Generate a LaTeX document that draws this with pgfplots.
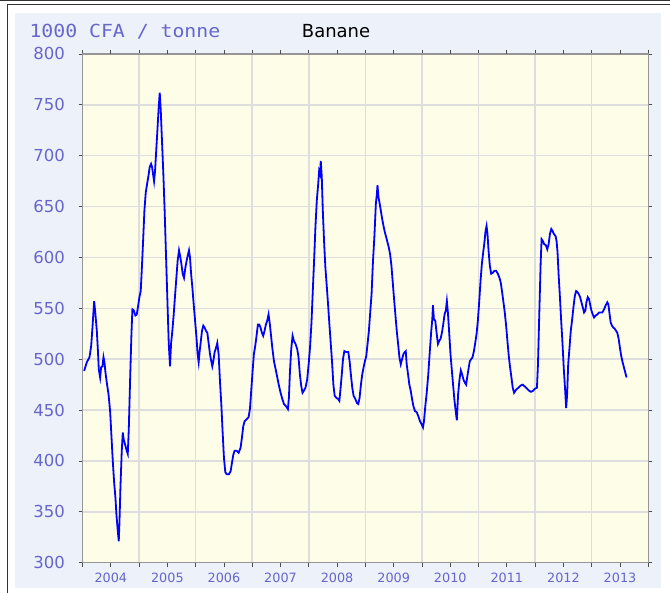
\documentclass[border=0pt]{standalone}
\usepackage{fontspec}
\setmainfont{DejaVu Sans}
\newfontfamily\monofont{DejaVu Sans Mono}
\usepackage{graphicx}
\usepackage{pgfplots}
\pgfplotsset{compat=1.18}
\definecolor{lbl}{RGB}{102,102,204}
\definecolor{panel}{RGB}{237,241,250}
\definecolor{plotbg}{RGB}{254,253,232}
\definecolor{gridc}{RGB}{222,222,222}
\definecolor{framec}{RGB}{150,150,150}
\begin{document}
\begin{tikzpicture}[x=1pt,y=1pt]
\useasboundingbox (0,0) rectangle (670,593);
\fill[white] (0,0) rectangle (670,593);
\fill[panel] (15,5) rectangle (661,580);
\draw[line width=1pt, black!80] (0,592.3) -- (670,592.3);
\draw[line width=1pt, black!80] (7,0) -- (7,588) -- (670,588);
\node[anchor=base west, text=lbl, font=\monofont\fontsize{18}{20}\selectfont, inner sep=0pt] at (29.3,555.3) {\scalebox{1.1}[1]{1000 CFA / tonne}};
\node[anchor=base west, text=black, font=\fontsize{18}{20}\selectfont, inner sep=0pt] at (301.7,555.3) {Banane};
\begin{axis}[
  at={(82.5pt,30.3pt)}, anchor=south west,
  scale only axis, width=565.8pt, height=508.7pt,
  xmin=2004, xmax=2014, ymin=300, ymax=800,
  axis background/.style={fill=plotbg},
  ytick={300,350,400,450,500,550,600,650,700,750,800},
  xtick={2004,2005,2006,2007,2008,2009,2010,2011,2012,2013,2014},
  xticklabels={},
  extra x ticks={2004.5,2005.5,2006.5,2007.5,2008.5,2009.5,2010.5,2011.5,2012.5,2013.5},
  extra x tick labels={2004,2005,2006,2007,2008,2009,2010,2011,2012,2013},
  extra x tick style={grid=none},
  grid=major,
  major grid style={draw=gridc, line width=1.5pt},
  tick align=outside,
  major tick length=4pt,
  tick style={black!70, line width=0.8pt},
  axis line style={draw=framec, line width=1.5pt},
  ticklabel style={text=lbl},
  yticklabel style={font=\fontsize{16.5}{18}\selectfont, xshift=-10pt},
  xticklabel style={font=\fontsize{12.8}{14}\selectfont, yshift=-3pt},
  /pgf/number format/assume math mode=true,
  /pgf/number format/1000 sep={},
]
\addplot[blue, line width=1.8pt, mark=none] coordinates {
(2004.029,488.5) (2004.076,497) (2004.124,502) (2004.153,513) (2004.176,531)
(2004.194,547) (2004.206,557) (2004.224,547) (2004.253,528) (2004.271,510)
(2004.288,490) (2004.312,482) (2004.329,492) (2004.353,493) (2004.371,502)
(2004.388,497) (2004.406,487) (2004.429,477) (2004.459,466) (2004.488,449)
(2004.512,424) (2004.535,400) (2004.559,379) (2004.582,364) (2004.600,347)
(2004.624,331) (2004.641,321) (2004.653,339) (2004.671,375) (2004.694,410)
(2004.712,428) (2004.729,421) (2004.753,416) (2004.782,410) (2004.800,407)
(2004.818,431) (2004.841,479) (2004.865,525) (2004.882,549) (2004.906,548)
(2004.935,543) (2004.959,544) (2004.982,552) (2005.006,561) (2005.029,567)
(2005.047,587) (2005.071,616) (2005.094,646) (2005.118,664) (2005.141,672)
(2005.165,680) (2005.188,689) (2005.212,692) (2005.229,689) (2005.247,682)
(2005.265,675) (2005.282,685) (2005.306,708) (2005.329,730) (2005.347,748)
(2005.365,762) (2005.382,746) (2005.406,713) (2005.429,682) (2005.453,644)
(2005.476,602) (2005.500,559) (2005.524,516) (2005.547,493) (2005.565,515)
(2005.588,528) (2005.612,544) (2005.635,562) (2005.659,580) (2005.682,597)
(2005.706,607) (2005.724,602) (2005.747,594) (2005.771,584) (2005.794,580)
(2005.818,590) (2005.841,597) (2005.865,603) (2005.882,607) (2005.900,600)
(2005.918,585) (2005.941,571) (2005.965,554) (2005.988,539) (2006.012,523)
(2006.035,505) (2006.053,497) (2006.071,508) (2006.088,516) (2006.112,528)
(2006.135,533) (2006.159,531) (2006.182,528) (2006.206,526) (2006.229,516)
(2006.253,505) (2006.276,498) (2006.294,493) (2006.312,498) (2006.335,507)
(2006.359,511) (2006.382,516) (2006.406,505) (2006.429,479) (2006.453,456)
(2006.476,429) (2006.500,403) (2006.524,389) (2006.547,387) (2006.588,387)
(2006.618,390) (2006.641,398) (2006.665,406) (2006.688,410) (2006.724,410)
(2006.759,408) (2006.794,413) (2006.818,423) (2006.841,434) (2006.865,439)
(2006.900,441) (2006.935,443) (2006.959,451) (2006.982,469) (2007.006,488)
(2007.029,505) (2007.053,513) (2007.076,523) (2007.100,534) (2007.124,534)
(2007.147,531) (2007.171,526) (2007.194,523) (2007.218,528) (2007.241,534)
(2007.265,538) (2007.288,544) (2007.312,534)
(2007.355,511) (2007.384,498) (2007.414,490) (2007.443,482) (2007.472,474)
(2007.501,467) (2007.531,461) (2007.560,456) (2007.595,454) (2007.630,451)
(2007.648,462) (2007.666,487) (2007.689,510) (2007.713,523) (2007.736,518)
(2007.765,515) (2007.795,510) (2007.818,502) (2007.842,485) (2007.865,474)
(2007.889,467) (2007.912,469) (2007.941,472) (2007.971,480) (2008.000,497)
(2008.023,513) (2008.047,536) (2008.070,567) (2008.094,598) (2008.117,630)
(2008.141,656) (2008.164,671) (2008.182,685) (2008.199,682) (2008.211,695)
(2008.229,679) (2008.246,648) (2008.270,615) (2008.293,590) (2008.317,572)
(2008.340,554) (2008.364,534) (2008.387,516) (2008.411,497) (2008.434,475)
(2008.457,464) (2008.487,462) (2008.516,461) (2008.540,459) (2008.557,469)
(2008.581,484) (2008.604,500) (2008.628,508) (2008.663,507) (2008.698,507)
(2008.721,498) (2008.745,484) (2008.768,472) (2008.792,464) (2008.821,461)
(2008.850,457) (2008.874,456) (2008.897,462) (2008.921,475) (2008.944,485)
(2008.968,492) (2008.991,498) (2009.015,503) (2009.038,515) (2009.062,528)
(2009.085,546) (2009.109,564) (2009.132,594) (2009.161,623) (2009.185,653)
(2009.202,662) (2009.214,671) (2009.232,659) (2009.249,654) (2009.273,646)
(2009.296,638) (2009.320,631) (2009.343,625) (2009.367,620) (2009.390,615)
(2009.413,610) (2009.437,603) (2009.460,592) (2009.484,575) (2009.507,559)
(2009.531,543) (2009.554,528) (2009.578,515) (2009.601,502) (2009.625,495)
(2009.648,500) (2009.672,505) (2009.695,507) (2009.713,508) (2009.730,495)
(2009.754,485) (2009.777,475) (2009.801,469) (2009.824,461) (2009.848,454)
(2009.877,449) (2009.906,448) (2009.935,444) (2009.965,439) (2009.994,436)
(2010.018,433) (2010.035,439) (2010.059,454) (2010.082,466) (2010.111,485)
(2010.141,510) (2010.164,528) (2010.182,539) (2010.194,553) (2010.211,539)
(2010.235,538) (2010.258,526) (2010.282,515) (2010.305,518) (2010.328,520)
(2010.352,526) (2010.375,534) (2010.399,544) (2010.422,548) (2010.440,557)
(2010.458,546) (2010.481,526) (2010.504,505) (2010.528,489) (2010.551,474)
(2010.575,459) (2010.598,448) (2010.616,440) (2010.639,466) (2010.663,480)
(2010.686,489) (2010.710,485) (2010.733,480) (2010.757,477) (2010.780,475)
(2010.804,484) (2010.827,492) (2010.845,498)
(2010.894,502) (2010.918,508) (2010.941,516) (2010.965,525) (2010.988,538)
(2011.012,557) (2011.035,577) (2011.059,594) (2011.082,605) (2011.106,616)
(2011.123,626) (2011.141,631) (2011.158,623) (2011.176,607) (2011.199,592)
(2011.223,584) (2011.252,585) (2011.282,587) (2011.311,587) (2011.340,584)
(2011.370,580) (2011.393,575) (2011.416,566) (2011.440,556) (2011.463,546)
(2011.487,533) (2011.510,518) (2011.534,503) (2011.557,492) (2011.581,482)
(2011.604,472) (2011.628,467) (2011.663,470) (2011.704,472) (2011.739,474)
(2011.780,475) (2011.821,473) (2011.856,471) (2011.892,469) (2011.927,468)
(2011.962,469) (2011.997,471) (2012.032,472) (2012.050,495) (2012.073,544)
(2012.097,594) (2012.114,618) (2012.138,616) (2012.161,613) (2012.191,612)
(2012.214,608) (2012.238,613) (2012.261,623) (2012.285,628) (2012.308,626)
(2012.332,623) (2012.361,621) (2012.379,616) (2012.396,605) (2012.414,584)
(2012.437,562) (2012.460,538) (2012.484,515) (2012.507,490) (2012.531,469)
(2012.548,452) (2012.566,466) (2012.584,495) (2012.607,511) (2012.630,528)
(2012.654,539) (2012.677,551) (2012.701,562) (2012.724,567) (2012.748,566)
(2012.771,564) (2012.795,561) (2012.818,556) (2012.842,551) (2012.865,546)
(2012.889,548) (2012.906,556) (2012.930,561) (2012.953,559) (2012.971,554)
(2012.994,548) (2013.018,544) (2013.041,541) (2013.071,543) (2013.100,544)
(2013.130,546) (2013.159,546) (2013.188,546) (2013.218,549) (2013.247,553)
(2013.276,556) (2013.294,554) (2013.312,546) (2013.335,536) (2013.358,533)
(2013.382,531) (2013.405,530) (2013.429,528) (2013.452,526) (2013.476,520)
(2013.499,511) (2013.522,503) (2013.546,497) (2013.569,492) (2013.593,487)
(2013.616,482)
};
\end{axis}
\end{tikzpicture}
\end{document}
